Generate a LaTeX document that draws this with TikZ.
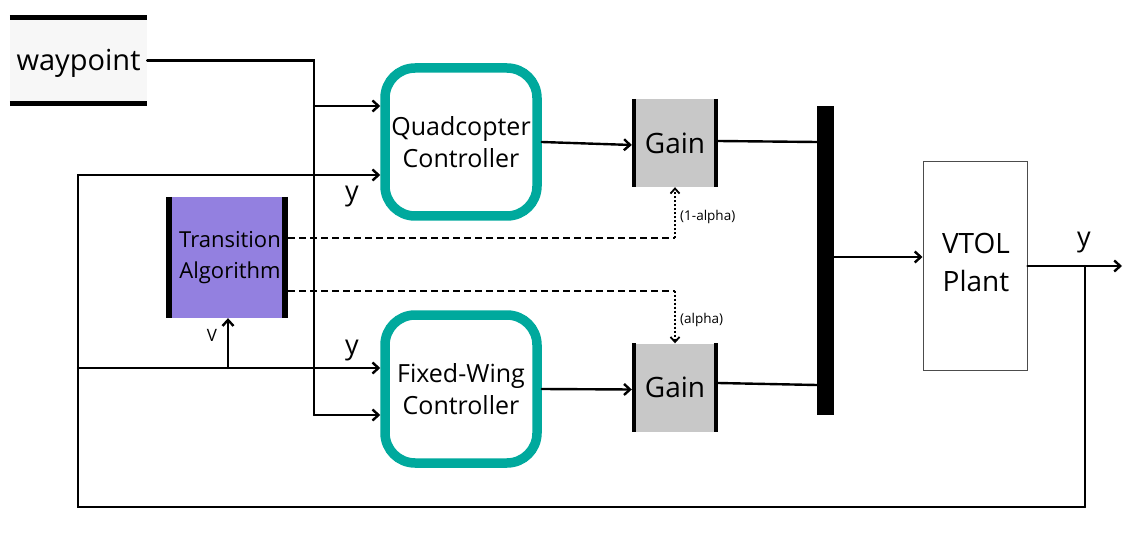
\documentclass[tikz,border=0pt]{standalone}
\usepackage{fontspec}
\setmainfont{Open Sans}
\usetikzlibrary{arrows.meta,positioning}
\definecolor{teal1}{HTML}{00A99D}
\definecolor{purp}{HTML}{9380E0}
\definecolor{gainfill}{HTML}{C8C8C8}
\definecolor{wpfill}{HTML}{F7F7F7}
\tikzset{
  x=1pt,y=-1pt,
  wire/.style={line width=2.4pt,line cap=round},
  arr/.style={wire,-{Straight Barb[length=6pt,width=11pt,line width=2.4pt]}},
  dsh/.style={line width=2pt,dash pattern=on 7pt off 4pt},
  dot/.style={line width=2.2pt,dash pattern=on 2pt off 2pt},
  ctrl/.style={draw=teal1,line width=9.5pt,rounded corners=30pt,fill=white,minimum width=152pt,minimum height=148pt,align=center,font=\fontsize{25}{32}\selectfont},
  gainbox/.style={fill=gainfill,minimum width=86pt,minimum height=88pt,inner sep=0pt,font=\fontsize{28}{30}\selectfont},
  lbl/.style={font=\fontsize{27}{28}\selectfont},
}
\begin{document}
\begin{tikzpicture}
\useasboundingbox (0,0) rectangle (1127,540);
% waypoint
\node[fill=wpfill,minimum width=137pt,minimum height=86pt,inner sep=0pt] (wp) at (78.5,60.5) {};
\node[font=\fontsize{29}{30}\selectfont] (wpt) at (78.5,63) {waypoint};
\draw[line width=5pt] (wp.north west) -- (wp.north east);
\draw[line width=5pt] (wp.south west) -- (wp.south east);
% controllers
\node[ctrl] (qc) at (461,142) {Quadcopter\\Controller};
\node[ctrl] (fw) at (461,389) {Fixed-Wing\\Controller};
% transition algorithm
\node[fill=purp,minimum width=122pt,minimum height=121pt,inner sep=0pt] (ta) at (227,257.5) {};
\node[align=center,font=\fontsize{22}{31}\selectfont] (tat) at (230,258) {Transition\\Algorithm};
\draw[line width=6pt] ([xshift=3pt]ta.north west) -- ([xshift=3pt]ta.south west);
\draw[line width=6pt] ([xshift=-3pt]ta.north east) -- ([xshift=-3pt]ta.south east);
% gains
\node[gainbox] (g1) at (675,143) {Gain};
\draw[line width=4pt] ([xshift=2pt]g1.north west) -- ([xshift=2pt]g1.south west);
\draw[line width=4pt] ([xshift=-2pt]g1.north east) -- ([xshift=-2pt]g1.south east);
\node[gainbox] (g2) at (675,387.5) {Gain};
\draw[line width=4pt] ([xshift=2pt]g2.north west) -- ([xshift=2pt]g2.south west);
\draw[line width=4pt] ([xshift=-2pt]g2.north east) -- ([xshift=-2pt]g2.south east);
% mux
\node[fill=black,minimum width=17pt,minimum height=309pt,inner sep=0pt] (mux) at (825.5,260.5) {};
% plant
\node[draw=black!70,line width=1pt,minimum width=104pt,minimum height=208pt,inner sep=0pt] (vp) at (975,266) {};
\node[align=center,font=\fontsize{28}{38}\selectfont] (vpt) at (976,262) {VTOL\\Plant};
% coordinates
\coordinate (j1) at (314,60.5);
\coordinate (j1b) at (314,415);
\coordinate (fbL) at (78,175);
\coordinate (fbBL) at (78,507);
\coordinate (fbBR) at (1085,507);
\coordinate (fbTR) at (1085,266);
\coordinate (out) at (1122,266);
\coordinate (vbr) at (228,368);
\coordinate (d1) at (675,238.5);
\coordinate (d2) at (675,290.5);
% waypoint wiring
\draw[wire] (wp.east) -- (j1) -- (j1b);
\draw[arr] (314,106) -- (qc.west |- 0,106);
\draw[arr] (j1b) -- (fw.west |- j1b);
% feedback
\draw[arr] (fbBR) -- (fbBL) -- (fbL) -- (qc.west |- fbL);
\draw[arr] (78,368) -- (fw.west |- 0,368);
\draw[arr] (vbr) -- (ta.south -| vbr);
\draw[arr] (vp.east |- out) -- (out);
\draw[wire] (fbTR) -- (fbBR);
% controller to gains
\draw[arr] (qc.east) -- ([yshift=-2pt]g1.west);
\draw[arr] (fw.east) -- ([yshift=-2pt]g2.west);
% gains to mux
\draw[wire] (g1.east |- 0,141) -- (mux.west |- 0,142);
\draw[wire] (g2.east |- 0,383) -- (mux.west |- 0,385);
\draw[arr] (mux.east |- 0,257) -- (vp.west |- 0,257);
% transition outputs
\draw[dsh] (ta.east |- d1) -- (d1);
\draw[dot,-{Straight Barb[length=5pt,width=9pt,line width=1.8pt]}] (d1) -- (g1.south);
\draw[dsh] (ta.east |- d2) -- (d2);
\draw[dot,-{Straight Barb[length=5pt,width=9pt,line width=1.8pt]}] (d2) -- (g2.north);
% labels
\node[font=\fontsize{13.5}{15}\selectfont,anchor=west,inner sep=1pt] (la1) at (679,217) {(1-alpha)};
\node[font=\fontsize{13.5}{15}\selectfont,anchor=west,inner sep=1pt] (la2) at (679,320) {(alpha)};
\node[lbl] (ly1) at (352,197) {y};
\node[lbl] (ly2) at (352,351) {y};
\node[lbl] (ly3) at (1084,243) {y};
\node[font=\fontsize{17}{18}\selectfont] (lv) at (212,335) {V};
\end{tikzpicture}
\end{document}
